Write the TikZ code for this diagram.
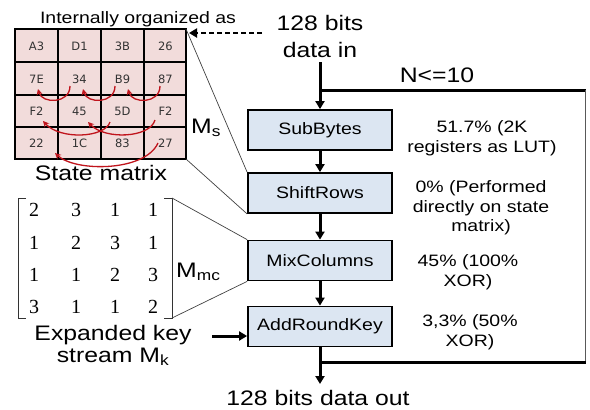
\documentclass[tikz,border=0pt]{standalone}
\usepackage{fontspec}
\setmainfont[FakeStretch=1.18]{Liberation Sans}
\newfontfamily\cellfont{DejaVu Sans}
\newfontfamily\matfont{Liberation Serif}
\usetikzlibrary{arrows.meta}
\definecolor{cellpink}{HTML}{F2DCDB}
\definecolor{boxblue}{HTML}{DCE6F2}
\definecolor{shiftred}{HTML}{C0141C}
\begin{document}
\begin{tikzpicture}[x=1pt,y=-1pt,
  stage/.style={draw=black, line width=1.8pt, fill=boxblue, minimum width=144pt,
    minimum height=40pt, inner sep=0pt, font=\fontsize{16.5}{20}\selectfont},
  flow/.style={line width=3pt, -{Triangle[length=8pt,width=9pt]}},
  loopline/.style={line width=3pt},
  big/.style={font=\fontsize{21}{27}\selectfont, inner sep=0pt, align=center},
  note/.style={font=\fontsize{16.5}{19.5}\selectfont, inner sep=0pt, align=center},
  cell/.style={font=\cellfont\fontsize{11.5}{13}\selectfont, text=black!80, inner sep=0pt},
  rowshift/.style={draw=shiftred, line width=1.3pt, -{Stealth[length=6pt,width=6pt]}},
  proj/.style={draw=black!75, line width=0.7pt},
  entry/.style={font=\matfont\fontsize{20}{22}\selectfont, inner sep=0pt},
  bracket/.style={draw=black!80, line width=0.9pt}
]
\useasboundingbox (0,0) rectangle (590,410);

% state matrix grid
\fill[cellpink] (15,29) rectangle (186,159);
\draw[line width=1.8pt] (15,29) rectangle (186,159);
\foreach \xx in {58,101,144} \draw[line width=1.8pt] (\xx,29) -- (\xx,159);
\foreach \yy in {62,95,127} \draw[line width=1.8pt] (15,\yy) -- (186,\yy);
\coordinate (gridNE) at (186,29);
\coordinate (gridSE) at (186,159);

% cell contents
\foreach \r/\yy/\row in {1/46/{A3,D1,3B,26}, 2/79/{7E,34,B9,87}, 3/111/{F2,45,5D,F2}, 4/143/{22,1C,83,27}} {
  \foreach \v [count=\c] in \row {
    \pgfmathsetmacro{\xx}{36.5+43*(\c-1)}
    \node[cell] (cell\r\c) at (\xx,\yy) {\v};
  }
}

% ShiftRows rotations
\draw[rowshift] (70,86) .. controls (70,104) and (42,104) .. (38,89);
\draw[rowshift] (115,86) .. controls (115,104) and (87,104) .. (83,89);
\draw[rowshift] (160,86) .. controls (160,104) and (132,104) .. (128,89);
\draw[rowshift] (110,122) .. controls (105,138) and (60,140) .. (43,121);
\draw[rowshift] (155,120) .. controls (150,138) and (105,140) .. (88,122);
\draw[rowshift] (158,143) .. controls (145,172) and (75,172) .. (55,153);

% labels around the state matrix
\node[big, anchor=base] (org) at (138,23) {\fontsize{16.5}{20}\selectfont Internally organized as};
\node[big, anchor=base] (statelbl) at (101,180) {State matrix};
\node[big, anchor=base west] (ms) at (191,133) {M\textsubscript{s}};

% MixColumns matrix
\foreach \r/\yy/\row in {1/210/{2,3,1,1}, 2/243/{1,2,3,1}, 3/275/{1,1,2,3}, 4/307/{3,1,1,2}} {
  \foreach \v [count=\c] in \row {
    \pgfmathsetmacro{\xx}{ifthenelse(\c==1,34,ifthenelse(\c==2,76,ifthenelse(\c==3,115,153)))}
    \node[entry] (m\r\c) at (\xx,\yy) {\v};
  }
}
\draw[bracket] (26,198) -- (18,198) -- (18,318) -- (26,318);
\draw[bracket] (164,198) -- (172,198) -- (172,318) -- (164,318);
\coordinate (matNE) at (172,198);
\coordinate (matSE) at (172,318);
\node[big, anchor=base west] (mmc) at (176,277) {M\textsubscript{mc}};

% key stream label
\node[big, font=\fontsize{21}{21.5}\selectfont] (key) at (113,345.5) {Expanded key\\stream M\textsubscript{k}};

% round stages
\node[stage] (sub) at (320,130) {SubBytes};
\node[stage] (shiftrows) at (320,193) {ShiftRows};
\node[stage] (mix) at (320,260.5) {MixColumns};
\node[stage] (ark) at (320,326.5) {AddRoundKey};

% resource shares
\node[note] (nsub) at (482,138) {51.7\% (2K\\registers as LUT)};
\node[note] (nshift) at (481,208) {0\% (Performed\\directly on state\\matrix)};
\node[note] (nmix) at (468,272) {45\% (100\%\\XOR)};
\node[note] (nark) at (470,332) {3,3\% (50\%\\XOR)};

% input / output
\node[big] (datain) at (320,36) {128 bits\\data in};
\node[big, anchor=base] (dataout) at (318,405) {128 bits data out};
\node[big, anchor=base] (rounds) at (437,82) {N<=10};

% projection lines
\draw[proj] (gridNE) -- (shiftrows.north west);
\draw[proj] (gridSE) -- (shiftrows.south west);
\draw[proj] (matNE) -- (mix.north west);
\draw[proj] (matSE) -- (mix.south west);

% dashed link to the state matrix
\coordinate (dashstart) at (262,33);
\coordinate (dashend) at (189,33);
\draw[line width=2.4pt, dash pattern=on 5pt off 3pt, -{Triangle[length=8pt,width=9pt]}] (dashstart) -- (dashend);

% data path
\coordinate (loopTop) at (320,90);
\coordinate (loopTR) at (585,90);
\coordinate (loopBR) at (585,362);
\coordinate (loopBL) at (320,362);
\coordinate (outTip) at (320,384);
\draw[flow] ([yshift=-5pt]datain.south) -- (sub.north);
\draw[flow] (sub) -- (shiftrows);
\draw[flow] (shiftrows) -- (mix);
\draw[flow] (mix) -- (ark);
\draw[flow] (ark.south) -- (outTip);
\draw[loopline] (loopTop) -- ([xshift=0.5pt]loopTR);
\draw[black!65, line width=1pt] (loopTR) -- (loopBR);
\draw[loopline] ([xshift=0.5pt]loopBR) -- (loopBL);
\coordinate (keyStart) at (212,336);
\draw[flow] (keyStart) -- (ark.west |- keyStart);
\end{tikzpicture}
\end{document}
